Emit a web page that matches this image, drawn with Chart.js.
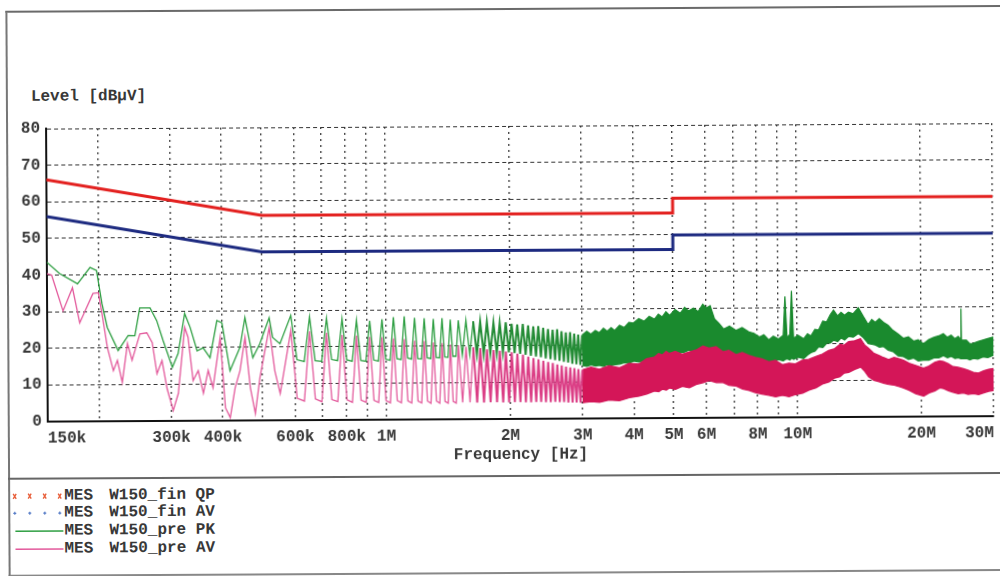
<!DOCTYPE html>
<html><head><meta charset="utf-8">
<script src="https://cdn.jsdelivr.net/npm/chart.js@4.4.1/dist/chart.umd.min.js"></script>
<style>
html,body{margin:0;padding:0;background:#fff;}
body{width:1000px;height:576px;overflow:hidden;position:relative;font-family:'Liberation Mono','DejaVu Sans Mono',monospace;color:#383838;font-weight:bold;}
#page{position:absolute;left:0;top:0;width:1000px;height:576px;transform:rotate(-0.33deg);transform-origin:500px 288px;}
.frame{position:absolute;left:7px;top:8px;width:1000px;height:566px;border-left:2px solid #777;border-top:2px solid #6a6a6a;border-bottom:2px solid #888;box-sizing:border-box}
.divider{position:absolute;left:7px;top:475px;width:1000px;height:0;border-top:2px solid #666}
#ytitle{position:absolute;left:32px;top:85px;font-size:16px;line-height:18px;white-space:pre}
#chartCanvas{position:absolute;left:0;top:0}
.lg{position:absolute;height:18px;font-size:16px;line-height:18px;white-space:pre}
.mk{position:absolute;left:8px;width:60px;height:18px}
</style></head>
<body>
<div id="page">
  <div class="frame"></div>
  <div class="divider"></div>
  <div id="ytitle">Level [dBµV]</div>
  <canvas id="chartCanvas" width="1000" height="472"></canvas>
  <div id="legend"></div>
</div>
<script>
// ---- axis ticks ----
const xTickValues = [150,200,300,400,500,600,700,800,900,1000,2000,3000,4000,5000,6000,7000,8000,9000,10000,20000,30000]; // kHz
const xTickLabels = ['150k','','300k','400k','','600k','','800k','','1M','2M','3M','4M','5M','6M','','8M','','10M','20M','30M'];
const yTickValues = [0,10,20,30,40,50,60,70,80];
const yTickLabels = ['0','10','20','30','40','50','60','70','80'];

// ---- limit lines (dBuV) ----
const qpLimitFreq = [150,500,5000,5000,30000];
const qpLimitLevel = [66,56,56,60,60];
const avLimitFreq = [150,500,5000,5000,30000];
const avLimitLevel = [56,46,46,50,50];

// ---- W150_pre PK trace (kHz, dBuV) ----
const pkFreq = [150,161,178,191,198,204,210,223,229,236,245,252,267,277,287,302,312,324,334,347,359,373,388,399,417,441,454,474,493,520,530,552,
587,607,632,652,672,697,717,737,762,782,802,827,848,868,893,913,933,958,978,998,1023,1043,1063,1088,1108,1128,1153,1174,1194,1219,1239,1259,1284,1304,1324,1349,1369,1389,1414,1434,1454,1479,
1500,1533,1565,1598,1630,1663,1695,1728,1760,1793,1826,1859,1891,1924,1956,1989,2021,2054,2086,2119,2152,2185,2217,2250,2282,2315,2347,2380,2412,2445,2478,2511,2543,2576,2608,2641,2673,2706,2738,2771,2804,2837,2869,2902,2934,2967,2999];
const pkLevel = [43.5,40.4,37.6,42.0,41.2,32.1,25.6,19.3,21.2,23.4,23.3,30.9,30.9,27.4,21.9,14.6,18.4,29.3,25.5,19.1,19.9,17.2,27.3,26.7,13.6,19.9,28.1,17.1,20.9,28.0,22.6,20.9,
28.6,16.5,16.0,28.2,16.2,16.0,27.8,16.5,16.2,27.6,16.4,16.0,27.2,16.2,16.0,27.0,16.3,16.0,27.4,16.5,16.2,28.0,16.6,16.4,28.2,16.8,16.5,27.8,16.6,16.5,27.6,16.8,16.6,27.4,16.9,16.8,27.6,17.0,16.9,27.2,17.2,17.2,
27.0,17.5,27.0,17.6,26.7,17.8,26.6,17.8,26.5,18.0,26.3,18.0,26.2,18.2,26.4,18.2,26.0,18.0,25.8,17.8,25.9,17.5,25.5,17.2,25.2,17.0,25.3,16.8,24.8,16.5,24.5,16.3,24.3,16.0,24.4,15.8,23.9,15.5,23.5,15.3,23.6,15.0,23.2,14.8,22.9,14.6,22.8];
// dense part of PK trace: upper and lower edge of the band
const pkBandFreq = [3000,3080,3150,3230,3300,3380,3450,3530,3600,3700,3800,3900,4000,4120,4250,4370,4500,4600,4700,4800,4900,5050,5200,5330,5450,5600,5750,5900,6030,6150,6300,6450,6630,6850,7100,7350,7630,7850,8100,8300,8530,8750,9000,9250,9350,9450,9600,9700,9800,10050,10370,10600,10800,11050,11280,11550,11800,12050,12270,12550,12800,13050,13340,13700,14100,14500,14900,15200,15500,15850,16220,16650,17100,17600,18140,18650,19200,19700,20280,20900,21500,22100,22680,23200,23700,24200,24660,25000,25050,25100,25800,26300,26820,27500,28300,29100,30000];
const pkBandTop = [22.8,23.8,23.0,24.0,23.4,24.6,23.8,24.8,24.0,25.4,24.8,26.2,26.0,27.2,26.5,27.8,27.0,28.4,27.6,29.0,28.0,29.6,28.6,30.2,29.2,30.0,29.0,31.0,30.0,30.6,27.0,25.8,24.2,25.0,23.8,24.6,23.4,23.0,22.0,22.6,21.2,22.2,21.4,22.4,33.0,21.8,22.6,34.5,21.6,22.4,21.4,22.8,22.2,24.0,23.8,26.2,26.0,28.0,29.2,27.6,28.6,27.8,28.6,28.2,29.8,27.4,25.2,26.6,25.8,26.8,25.8,25.0,23.6,22.6,21.4,21.8,20.6,21.0,19.9,21.0,21.6,22.0,22.6,21.6,22.2,21.2,21.8,21.0,29.4,20.8,20.8,19.8,19.9,20.4,20.8,21.2,21.6];
const pkBandBottom = [14.5,14.2,14.6,14.3,14.5,14.2,14.7,14.4,14.6,14.8,15.2,15.0,15.6,15.3,15.8,15.5,16.0,15.8,16.2,16.0,16.6,17.0,17.8,18.0,18.5,18.2,18.8,18.6,19.2,18.4,18.2,17.6,17.8,16.8,17.0,16.2,16.4,15.6,15.8,15.0,15.2,15.2,15.8,15.4,15.8,16.0,15.6,16.2,15.8,16.4,16.0,17.0,17.6,18.0,19.2,19.0,20.2,20.2,21.0,20.6,21.6,21.0,22.0,21.8,22.8,21.6,20.0,19.8,19.6,19.0,19.2,18.2,17.8,16.6,16.4,15.6,16.0,15.2,15.4,15.4,16.0,16.0,16.6,16.0,16.4,15.8,16.0,15.7,15.7,15.7,15.8,15.4,15.8,15.6,16.2,16.0,16.6];

// ---- W150_pre AV trace (kHz, dBuV) ----
const avFreq = [150,154,164,173,180,194,200,204,210,217,222,228,235,241,252,262,270,277,285,293,303,312,324,330,339,349,359,369,379,395,406,417,429,441,454,467,480,493,520,536,552,
587,607,632,652,672,697,717,737,762,782,802,827,848,868,893,913,933,958,978,998,1023,1043,1063,1088,1108,1128,1153,1174,1194,1219,1239,1259,1284,1304,1324,1349,1369,1389,1414,1434,1454,1479,
1500,1533,1565,1598,1630,1663,1695,1728,1760,1793,1826,1859,1891,1924,1956,1989,2021,2054,2086,2119,2152,2185,2217,2250,2282,2315,2347,2380,2412,2445,2478,2511,2543,2576,2608,2641,2673,2706,2738,2771,2804,2837,2869,2902,2934,2967,2999];
const avLevel = [40.4,40.0,30.2,36.5,26.9,34.9,35.1,29.4,20.1,13.8,16.6,10.6,21.2,16.6,23.8,24.1,21.4,12.9,16.5,8.8,2.8,7.5,25.5,22.8,11.0,13.7,7.5,13.7,9.0,22.7,3.5,0.8,9.0,13.6,22.7,9.0,1.9,11.7,25.3,13.5,7.3,
24.5,6.0,5.2,24.2,5.8,5.0,23.8,5.6,5.0,23.2,5.5,4.8,23.0,5.4,4.8,22.6,5.3,4.7,22.5,5.2,4.6,22.2,5.2,4.6,22.0,5.1,4.5,21.5,5.0,4.5,21.4,5.0,4.4,21.0,5.0,4.4,20.8,4.9,4.4,20.4,4.9,4.4,
20.2,4.6,19.8,4.6,19.6,4.5,19.4,4.5,19.0,4.6,18.8,4.6,18.6,4.5,18.4,4.5,18.2,4.6,17.8,4.6,17.5,4.5,17.0,4.5,16.6,4.6,16.2,4.6,15.8,4.5,15.5,4.5,15.2,4.6,14.8,4.5,14.5,4.5,14.2,4.4,14.0,4.4,13.8,4.4,13.5,4.3,13.3];
const avBandFreq = [3000,3150,3300,3480,3690,3900,4120,4300,4490,4600,4700,4800,4880,5050,5250,5460,5700,5900,6100,6350,6600,6820,7100,7350,7630,7900,8200,8530,8850,9200,9540,9900,10300,10670,11100,11500,11930,12300,12700,13000,13340,13800,14260,14600,14900,15340,15800,16200,16680,17200,17700,18140,18700,19400,20280,20900,21600,22200,22680,23300,23900,24600,25360,26000,26800,27580,28400,29200,30000];
const avBandTop = [13.3,14.0,13.4,14.4,13.8,15.0,14.8,16.2,16.6,17.6,17.2,18.2,17.6,18.2,17.4,18.0,18.6,19.6,19.0,19.4,18.0,18.4,17.2,17.8,17.0,16.4,16.0,15.2,15.6,14.4,14.8,14.6,15.6,15.8,16.6,17.2,18.2,18.6,19.8,19.6,20.6,20.8,21.4,19.6,18.8,17.4,16.8,16.2,15.6,16.2,15.8,15.4,14.6,14.0,13.2,13.8,14.8,15.2,15.0,14.4,13.6,13.4,13.0,12.6,12.0,11.8,12.4,12.8,13.0];
const avBandBottom = [4.3,4.6,4.4,5.0,4.8,5.6,6.0,6.6,7.4,7.2,7.9,7.6,8.2,7.8,8.6,8.2,9.2,9.6,10.2,9.6,9.6,8.8,8.6,7.8,7.4,6.8,6.4,6.0,5.6,6.0,5.6,6.2,6.6,7.4,8.0,9.0,9.6,10.6,11.0,12.0,12.2,13.0,13.6,12.4,11.0,10.0,9.6,9.2,8.8,8.6,8.2,7.8,7.2,6.2,5.6,6.4,7.0,7.8,7.6,7.0,6.6,6.2,6.4,6.0,6.2,5.9,6.4,6.8,7.0];

// ---- legend ----
const legendPrefix = ['MES','MES','MES','MES'];
const legendNames = ['W150_fin QP','W150_fin AV','W150_pre PK','W150_pre AV'];

const COL = {qp:'#e3201f', av:'#1d2a80', pk:'#2f9f43', pkDense:'rgb(36,140,54)', pkBand:'rgb(26,138,46)',
             avLine:'#e35a9c', avDense:'#db3f86', avBand:'rgb(212,22,88)'};
const pts = (fs, vs) => fs.map((f, i) => ({x: f, y: vs[i]}));
const FONT = {family: "'Liberation Mono','DejaVu Sans Mono',monospace", size: 16, weight: 'bold'};
const DENSE_FROM = 1600; // kHz: harmonics close together, trace drawn heavier
const denseSeg = (thin, thick, c1, c2) => ({
  borderWidth: c => c.p0.parsed.x >= DENSE_FROM ? thick : thin,
  borderColor: c => c.p0.parsed.x >= DENSE_FROM ? c2 : c1
});

const datasets = [
  {data: pts(qpLimitFreq, qpLimitLevel), borderColor: COL.qp, borderWidth: 3, order: 0, fill: false},
  {data: pts(avLimitFreq, avLimitLevel), borderColor: COL.av, borderWidth: 3, order: 1, fill: false},
  {data: pts(avFreq, avLevel), borderColor: COL.avLine, borderWidth: 1.3, order: 2, fill: false,
   segment: denseSeg(1.3, 2, COL.avLine, COL.avDense)},
  {data: pts(avBandFreq, avBandTop), borderColor: COL.avBand, borderWidth: 1.2, order: 3, fill: false},
  {data: pts(avBandFreq, avBandBottom), borderColor: COL.avBand, borderWidth: 1.2, order: 3, fill: {target: 3}, backgroundColor: COL.avBand},
  {data: pts(pkFreq, pkLevel), borderColor: COL.pk, borderWidth: 1.3, order: 5, fill: false,
   segment: denseSeg(1.3, 2, COL.pk, COL.pkDense)},
  {data: pts(pkBandFreq, pkBandTop), borderColor: COL.pkBand, borderWidth: 1.2, order: 6, fill: false},
  {data: pts(pkBandFreq, pkBandBottom), borderColor: COL.pkBand, borderWidth: 1.2, order: 6, fill: {target: 6}, backgroundColor: COL.pkBand}
];

new Chart(document.getElementById('chartCanvas'), {
  type: 'line',
  data: {datasets},
  options: {
    responsive: false, animation: false, devicePixelRatio: 1,
    layout: {padding: {left: 0, right: 4, top: 126, bottom: 0}},
    plugins: {legend: {display: false}, tooltip: {enabled: false}},
    elements: {point: {radius: 0, hoverRadius: 0}, line: {tension: 0}},
    scales: {
      x: {
        type: 'logarithmic', min: 150, max: 30000,
        afterBuildTicks: s => { s.ticks = xTickValues.map(v => ({value: v})); },
        afterFit: s => { s.height = 53; },
        ticks: {autoSkip: false, maxRotation: 0, minRotation: 0, align: 'inner', padding: 7, color: '#383838', font: FONT,
                callback: (v, i) => xTickLabels[i]},
        grid: {color: '#333', lineWidth: 1.3, drawTicks: false},
        border: {display: true, color: '#111', width: 2, dash: [2, 4]},
        title: {display: true, text: 'Frequency [Hz]', color: '#383838', font: FONT, padding: {top: 0, bottom: 7}}
      },
      y: {
        type: 'linear', min: 0, max: 80,
        afterBuildTicks: s => { s.ticks = yTickValues.map(v => ({value: v})); },
        afterFit: s => { s.width = 47; },
        ticks: {padding: 6, color: '#383838', font: FONT, callback: (v, i) => yTickLabels[i]},
        grid: {color: '#333', lineWidth: 1, drawTicks: false},
        border: {display: true, color: '#111', width: 2, dash: [4, 3]}
      }
    }
  }
});

// legend rows
const rowTops = [484, 501, 519, 537];
const markers = [
  '<svg class="mk" viewBox="0 0 60 18" width="60" height="18">' + [4,19,34,49].map(x => `<path d="M${x} 7 L${x+3} 12 M${x+3} 7 L${x} 12" stroke="#e8603c" stroke-width="1.4"/>`).join('') + '</svg>',
  '<svg class="mk" viewBox="0 0 60 18" width="60" height="18">' + [4,19,34,49].map(x => `<path d="M${x} 9.5 L${x+3} 9.5 M${x+1.5} 8 L${x+1.5} 11" stroke="#5a7fc8" stroke-width="1.2"/>`).join('') + '</svg>',
  '<svg class="mk" viewBox="0 0 60 18" width="60" height="18"><line x1="6" y1="9.5" x2="54" y2="9.5" stroke="' + COL.pk + '" stroke-width="1.5"/></svg>',
  '<svg class="mk" viewBox="0 0 60 18" width="60" height="18"><line x1="6" y1="9.5" x2="54" y2="9.5" stroke="' + COL.avLine + '" stroke-width="1.5"/></svg>'
];
const lg = document.getElementById('legend');
legendNames.forEach((name, i) => {
  const t = rowTops[i];
  lg.insertAdjacentHTML('beforeend',
    `<div style="position:absolute;left:0;top:${t}px;width:300px;height:18px">${markers[i]}` +
    `<span class="lg" style="left:63px;top:0">${legendPrefix[i]}</span>` +
    `<span class="lg" style="left:108px;top:0">${name}</span></div>`);
});
</script>
</body></html>
